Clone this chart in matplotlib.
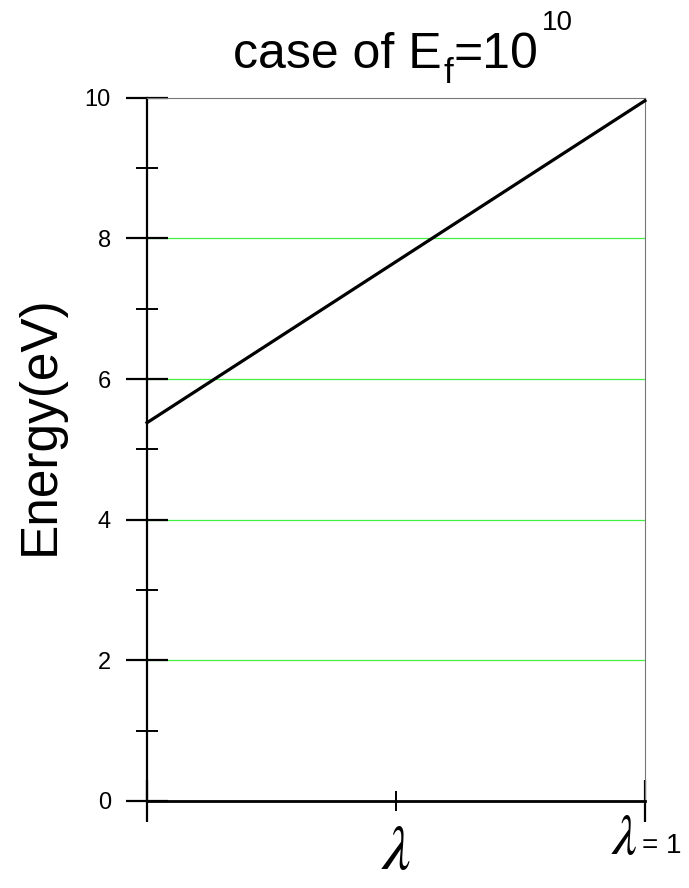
import numpy as np
import matplotlib.pyplot as plt
from matplotlib.ticker import MultipleLocator, FixedLocator, NullFormatter

plt.rcParams['font.family'] = ['Liberation Sans', 'DejaVu Sans']
plt.rcParams['mathtext.fontset'] = 'stix'

# energy vs lambda, straight line
lam = [0.0, 1.0]
energy = [5.38, 9.96]
grid_levels = [2, 4, 6, 8]
ytick_vals = [0, 2, 4, 6, 8, 10]

fig = plt.figure(figsize=(6.89, 8.88), dpi=100)
ax = fig.add_axes([0.2134, 0.098, 0.7227, 0.7918])

ax.hlines(grid_levels, 0, 1, colors='#44ee44', linewidth=0.9, zorder=1)
ax.plot(lam, energy, color='black', linewidth=2.3, zorder=3, clip_on=False)

ax.set_xlim(0, 1)
ax.set_ylim(0, 10)

for s in ['top', 'right']:
    ax.spines[s].set_color('#777777')
    ax.spines[s].set_linewidth(0.8)
ax.spines['left'].set_linewidth(1.6)
ax.spines['bottom'].set_linewidth(2.0)

ax.yaxis.set_major_locator(FixedLocator(ytick_vals))
ax.yaxis.set_minor_locator(MultipleLocator(1))
ax.tick_params(axis='y', which='major', direction='inout', length=30, width=1.6,
               labelsize=17, pad=11)
ax.tick_params(axis='y', which='minor', direction='inout', length=16, width=1.4)

ax.xaxis.set_major_locator(FixedLocator([0, 1]))
ax.xaxis.set_minor_locator(FixedLocator([0.5]))
ax.xaxis.set_major_formatter(NullFormatter())
ax.tick_params(axis='x', which='major', direction='inout', length=30, width=1.6)
ax.tick_params(axis='x', which='minor', direction='inout', length=15, width=1.4)

ax.set_ylabel('Energy(eV)', fontsize=37)
ax.yaxis.set_label_coords(-0.165, 0.535)

# title assembled piece by piece: E with subscript f, 10 with superscript
renderer = fig.canvas.get_renderer()
title_parts = [('case of E', 36, 0), ('f', 25, -15), ('=10', 36, 0), ('10', 20, 38)]
gaps = [0, 2, 0, 4]
x_px = 233
base_px = 888 - 68
for (txt, size, dy), gap in zip(title_parts, gaps):
    x_px += gap
    t = fig.text(x_px / 689, (base_px + dy) / 888, txt, fontsize=size,
                 ha='left', va='baseline')
    x_px = t.get_window_extent(renderer).x1

ax.text(0.5, -0.03, r'$\lambda$', transform=ax.transAxes, ha='center', va='top',
        fontsize=46)
ax.text(0.985, -0.018, r'$\lambda$', transform=ax.transAxes, ha='right', va='top',
        fontsize=40)
ax.text(0.995, -0.045, '= 1', transform=ax.transAxes, ha='left', va='top', fontsize=20)

fig.savefig('out.png', dpi=100)
